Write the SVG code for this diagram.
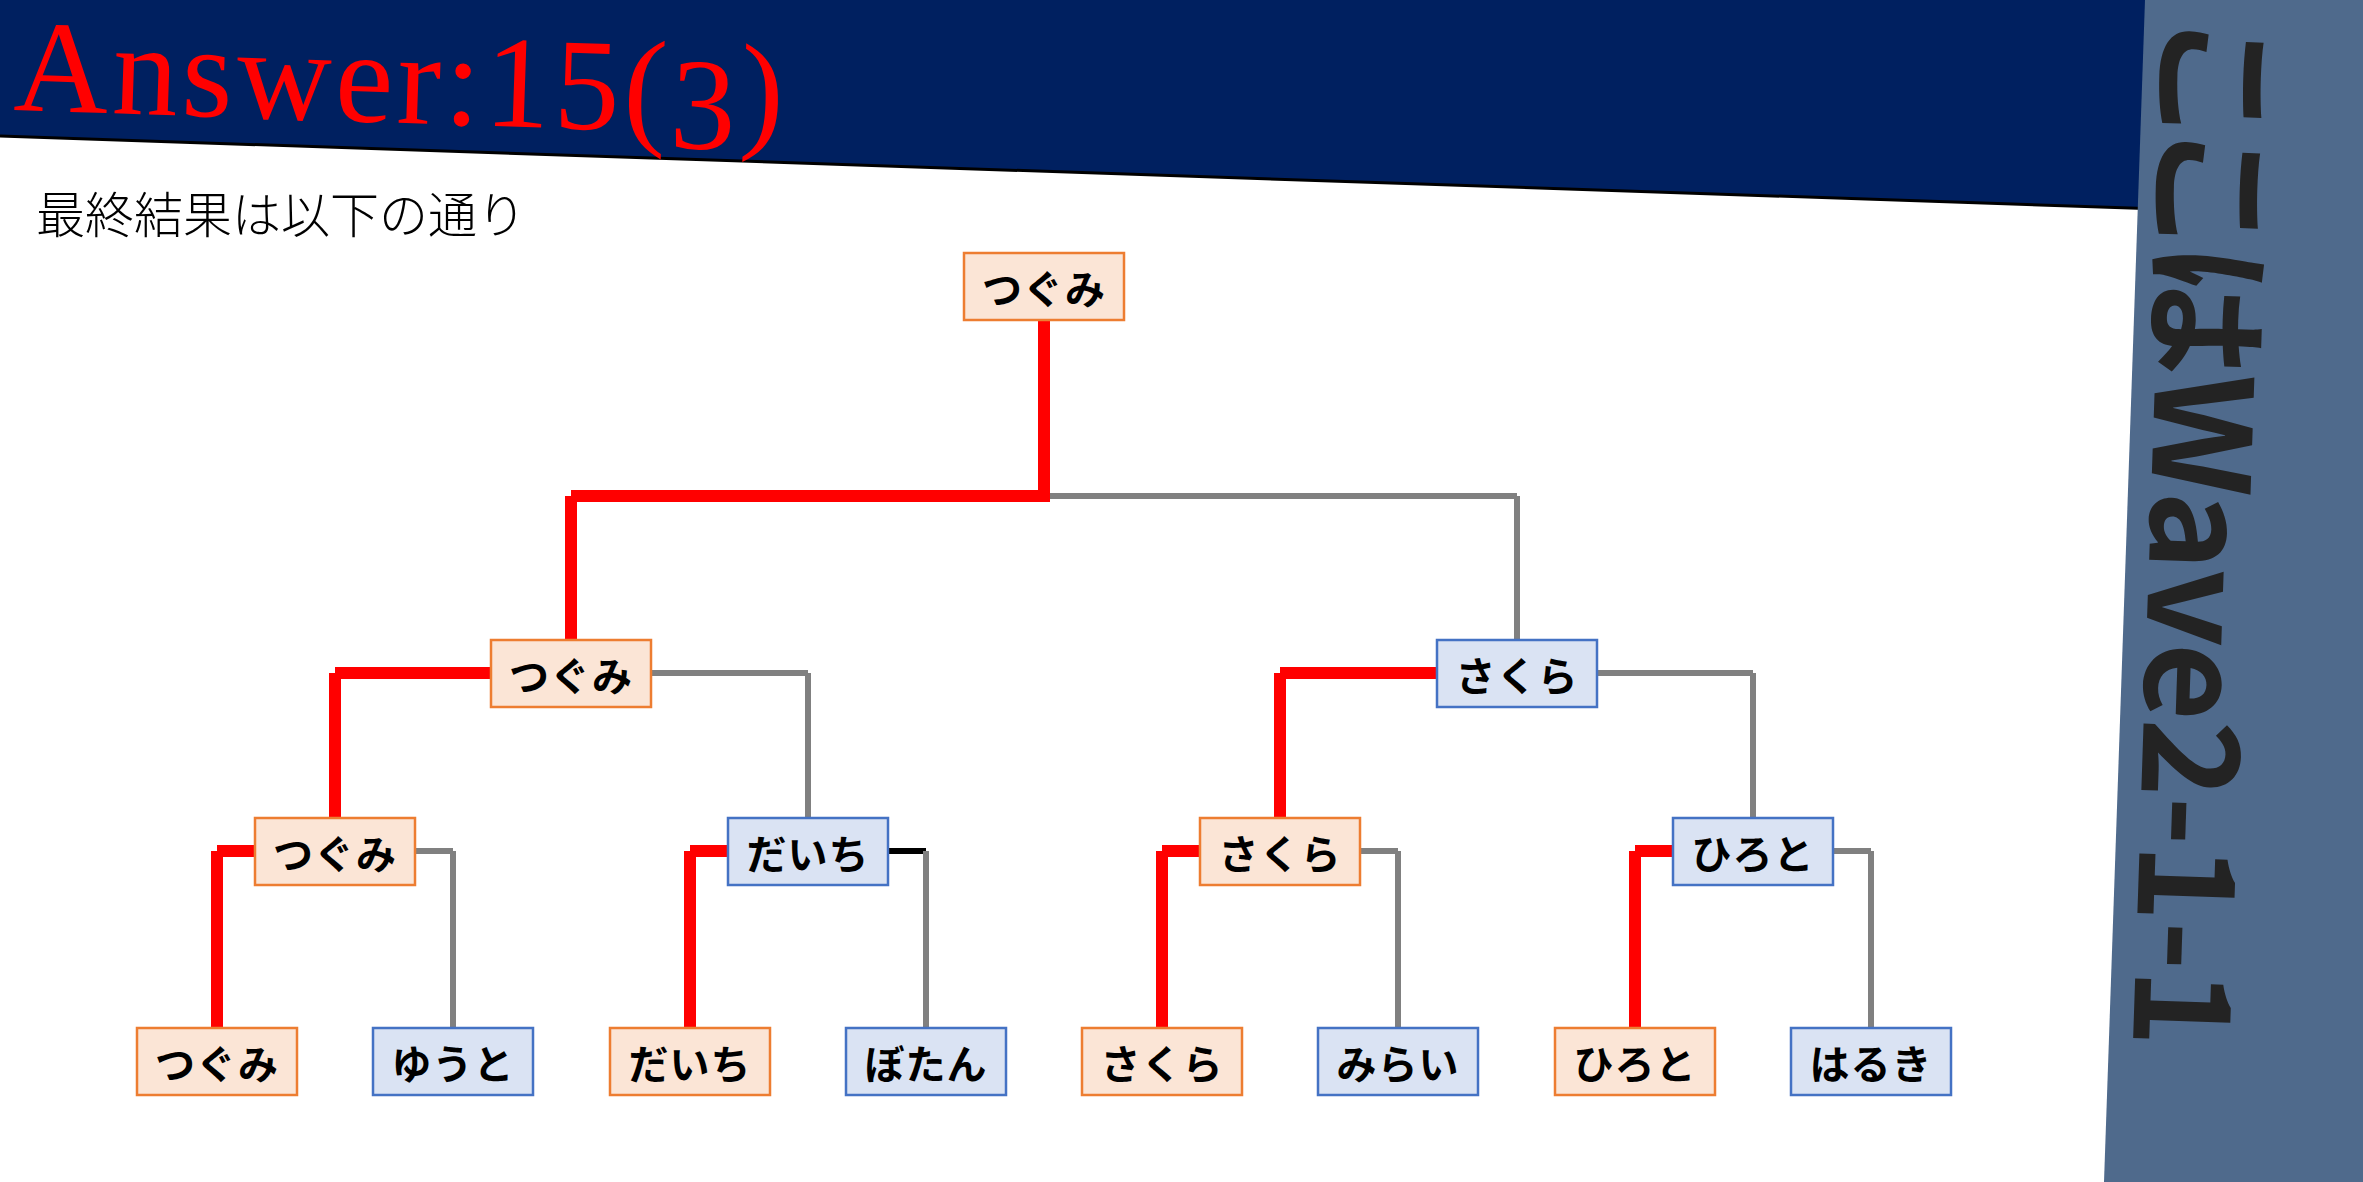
<svg xmlns="http://www.w3.org/2000/svg" width="2363" height="1182" viewBox="0 0 2363 1182">
<style>
.win rect{fill:#FBE5D6;stroke:#ED7D31;stroke-width:2.5}
.lose rect{fill:#DAE3F3;stroke:#4472C4;stroke-width:2.5}
.node text{font-family:"Noto Sans CJK JP","Noto Sans",sans-serif;font-weight:700;font-size:40px;fill:#000;text-anchor:middle;dominant-baseline:central;letter-spacing:1px}
.r{stroke:#FF0000;stroke-width:12;fill:none;stroke-linecap:butt}
.g{stroke:#808080;stroke-width:6;fill:none;stroke-linecap:butt}
.k{stroke:#000000;stroke-width:6;fill:none;stroke-linecap:butt}
</style>
<rect x="0" y="0" width="2363" height="1182" fill="#FFFFFF"/>
<g id="banner">
<polygon points="0,0 2160,0 2160,208.5 0,136" fill="#002060"/>
<line x1="0" y1="136" x2="2145" y2="208.5" stroke="#000000" stroke-width="3"/>
<text transform="translate(13,110) rotate(1.9)" font-family="Liberation Serif, serif" font-size="131" fill="#FF0000" textLength="770" lengthAdjust="spacing">Answer:15(<tspan dy="16">3</tspan><tspan dy="-16">)</tspan></text>
</g>
<g id="side-panel">
<polygon points="2145,0 2363,0 2363,1182 2104,1182" fill="#4F6A8C"/>
<text transform="translate(2167,20) rotate(91.9)" font-family="Noto Sans CJK JP, sans-serif" font-weight="700" font-size="134" fill="#232323" style="font-feature-settings:'palt'" textLength="1027" lengthAdjust="spacing">ここはWave2-1-1</text>
</g>
<text id="subtitle" x="36" y="233" font-family="Noto Sans CJK JP, sans-serif" font-weight="300" font-size="49" fill="#000000">最終結果は以下の通り</text>
<g id="connectors">
<line class="g" x1="1044" y1="496" x2="1517" y2="496"/>
<line class="g" x1="1517" y1="496" x2="1517" y2="640"/>
<line class="r" x1="1044" y1="320" x2="1044" y2="502"/>
<line class="r" x1="1050" y1="496" x2="571" y2="496"/>
<line class="r" x1="571" y1="496" x2="571" y2="640"/>

<line class="g" x1="651" y1="673" x2="808" y2="673"/>
<line class="g" x1="808" y1="673" x2="808" y2="818"/>
<line class="r" x1="491" y1="673" x2="335" y2="673"/>
<line class="r" x1="335" y1="673" x2="335" y2="818"/>

<line class="g" x1="1597" y1="673" x2="1753" y2="673"/>
<line class="g" x1="1753" y1="673" x2="1753" y2="818"/>
<line class="r" x1="1437" y1="673" x2="1280" y2="673"/>
<line class="r" x1="1280" y1="673" x2="1280" y2="818"/>

<line class="g" x1="415" y1="851" x2="453" y2="851"/>
<line class="g" x1="453" y1="851" x2="453" y2="1028"/>
<line class="r" x1="255" y1="851" x2="217" y2="851"/>
<line class="r" x1="217" y1="851" x2="217" y2="1028"/>

<line class="k" x1="888" y1="851" x2="926" y2="851"/>
<line class="g" x1="926" y1="851" x2="926" y2="1028"/>
<line class="r" x1="728" y1="851" x2="690" y2="851"/>
<line class="r" x1="690" y1="851" x2="690" y2="1028"/>

<line class="g" x1="1360" y1="851" x2="1398" y2="851"/>
<line class="g" x1="1398" y1="851" x2="1398" y2="1028"/>
<line class="r" x1="1200" y1="851" x2="1162" y2="851"/>
<line class="r" x1="1162" y1="851" x2="1162" y2="1028"/>

<line class="g" x1="1833" y1="851" x2="1871" y2="851"/>
<line class="g" x1="1871" y1="851" x2="1871" y2="1028"/>
<line class="r" x1="1673" y1="851" x2="1635" y2="851"/>
<line class="r" x1="1635" y1="851" x2="1635" y2="1028"/>
</g>
<g id="n-root" class="node win"><rect x="964" y="253" width="160" height="67"/><text x="1044" y="287">つぐみ</text></g>
<g id="n-l1-tsugumi" class="node win"><rect x="491" y="640" width="160" height="67"/><text x="571" y="674">つぐみ</text></g>
<g id="n-l1-sakura" class="node lose"><rect x="1437" y="640" width="160" height="67"/><text x="1517" y="674">さくら</text></g>
<g id="n-l2-tsugumi" class="node win"><rect x="255" y="818" width="160" height="67"/><text x="335" y="852">つぐみ</text></g>
<g id="n-l2-daichi" class="node lose"><rect x="728" y="818" width="160" height="67"/><text x="808" y="852">だいち</text></g>
<g id="n-l2-sakura" class="node win"><rect x="1200" y="818" width="160" height="67"/><text x="1280" y="852">さくら</text></g>
<g id="n-l2-hiroto" class="node lose"><rect x="1673" y="818" width="160" height="67"/><text x="1753" y="852">ひろと</text></g>
<g id="n-l3-tsugumi" class="node win"><rect x="137" y="1028" width="160" height="67"/><text x="217" y="1062">つぐみ</text></g>
<g id="n-l3-yuuto" class="node lose"><rect x="373" y="1028" width="160" height="67"/><text x="453" y="1062">ゆうと</text></g>
<g id="n-l3-daichi" class="node win"><rect x="610" y="1028" width="160" height="67"/><text x="690" y="1062">だいち</text></g>
<g id="n-l3-botan" class="node lose"><rect x="846" y="1028" width="160" height="67"/><text x="926" y="1062">ぼたん</text></g>
<g id="n-l3-sakura" class="node win"><rect x="1082" y="1028" width="160" height="67"/><text x="1162" y="1062">さくら</text></g>
<g id="n-l3-mirai" class="node lose"><rect x="1318" y="1028" width="160" height="67"/><text x="1398" y="1062">みらい</text></g>
<g id="n-l3-hiroto" class="node win"><rect x="1555" y="1028" width="160" height="67"/><text x="1635" y="1062">ひろと</text></g>
<g id="n-l3-haruki" class="node lose"><rect x="1791" y="1028" width="160" height="67"/><text x="1871" y="1062">はるき</text></g>
</svg>
